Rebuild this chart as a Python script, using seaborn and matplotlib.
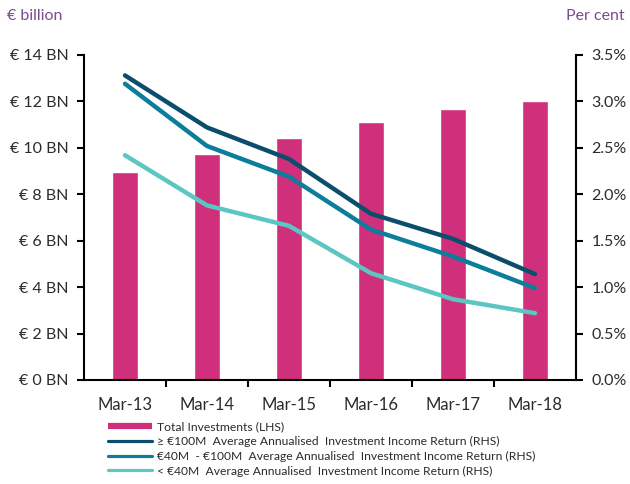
import matplotlib
matplotlib.use("Agg")
import matplotlib.pyplot as plt
from matplotlib.lines import Line2D
from matplotlib.ticker import FixedLocator, FuncFormatter
import seaborn as sns
import pandas as pd

periods = ["Mar-13", "Mar-14", "Mar-15", "Mar-16", "Mar-17", "Mar-18"]
total_investments_bn = [8.95, 9.72, 10.43, 11.10, 11.67, 12.01]
return_over_100m = [3.28, 2.72, 2.38, 1.79, 1.52, 1.14]
return_40m_100m = [3.19, 2.52, 2.19, 1.62, 1.33, 0.99]
return_under_40m = [2.42, 1.88, 1.66, 1.15, 0.87, 0.72]

legend_labels = [
    "Total Investments (LHS)",
    "\u2265 \u20ac100M  Average Annualised  Investment Income Return (RHS)",
    "\u20ac40M  - \u20ac100M  Average Annualised  Investment Income Return (RHS)",
    "< \u20ac40M  Average Annualised  Investment Income Return (RHS)",
]

BAR = "#D0307B"
DARK = "#0B4E6B"
MID = "#0C7D9A"
LIGHT = "#5CC6C2"
PURPLE = "#7E4A8E"
TXT = "#2b2b2b"

sns.set_theme(style="white")
plt.rcParams["font.family"] = ["Lato", "DejaVu Sans"]

fig = plt.figure(figsize=(6.3, 4.84), dpi=100)
ax = fig.add_axes([0.1333, 0.2149, 0.7810, 0.6715])

bars = pd.DataFrame({"period": periods, "value": total_investments_bn})
sns.barplot(data=bars, x="period", y="value", color=BAR, width=0.31,
            saturation=1, ax=ax)
ax.set_xlim(-0.5, 5.5)
ax.set_ylim(0, 14)
ax.set_xlabel("")
ax.set_ylabel("")
ax.yaxis.set_major_locator(FixedLocator(range(0, 15, 2)))
ax.yaxis.set_major_formatter(FuncFormatter(lambda v, p: f"\u20ac {int(v)} BN"))
ax.set_xticks(range(len(periods)))
ax.set_xticklabels(periods)
ax.set_xticks([0.5, 1.5, 2.5, 3.5, 4.5], minor=True)
ax.tick_params(axis="x", which="major", length=0, pad=12, labelsize=12, labelcolor=TXT)
ax.tick_params(axis="x", which="minor", bottom=True, length=5, width=1.5, color="black", direction="out")
ax.tick_params(axis="y", left=True, length=5, width=1.5, color="black", direction="out",
               labelsize=11.5, labelcolor=TXT, pad=6)
for s in ["top", "right"]:
    ax.spines[s].set_visible(False)
for s in ["left", "bottom"]:
    ax.spines[s].set_color("black")
    ax.spines[s].set_linewidth(1.5)

ax2 = ax.twinx()
lines = pd.DataFrame({
    "x": list(range(6)) * 3,
    "y": return_over_100m + return_40m_100m + return_under_40m,
    "series": ["a"] * 6 + ["b"] * 6 + ["c"] * 6,
})
sns.lineplot(data=lines, x="x", y="y", hue="series",
             palette={"a": DARK, "b": MID, "c": LIGHT}, linewidth=3.2,
             legend=False, ax=ax2, solid_capstyle="round", solid_joinstyle="round")
ax2.set_xlim(-0.5, 5.5)
ax2.set_ylim(0, 3.5)
ax2.set_xlabel("")
ax2.set_ylabel("")
ax2.yaxis.set_major_locator(FixedLocator([i * 0.5 for i in range(8)]))
ax2.yaxis.set_major_formatter(FuncFormatter(lambda v, p: f"{v:.1f}%"))
ax2.tick_params(axis="y", right=True, length=5, width=1.5, color="black", direction="out",
                labelsize=11.5, labelcolor=TXT, pad=6)
for s in ["top", "left", "bottom"]:
    ax2.spines[s].set_visible(False)
ax2.spines["right"].set_color("black")
ax2.spines["right"].set_linewidth(1.5)

fig.text(0.011, 0.966, "\u20ac billion", color=PURPLE, fontsize=11.5, ha="left", va="center")
fig.text(0.992, 0.966, "Per cent", color=PURPLE, fontsize=11.5, ha="right", va="center")

handles = [
    Line2D([], [], color=BAR, linewidth=4.5, solid_capstyle="butt"),
    Line2D([], [], color=DARK, linewidth=2.3),
    Line2D([], [], color=MID, linewidth=2.3),
    Line2D([], [], color=LIGHT, linewidth=2.3),
]
fig.legend(handles, legend_labels, loc="upper left", bbox_to_anchor=(0.171, 0.129),
           frameon=False, fontsize=8.7, handlelength=3.7, handletextpad=0.4,
           labelspacing=0.3, borderaxespad=0, borderpad=0, labelcolor=TXT)

fig.savefig("out.png", dpi=100)
